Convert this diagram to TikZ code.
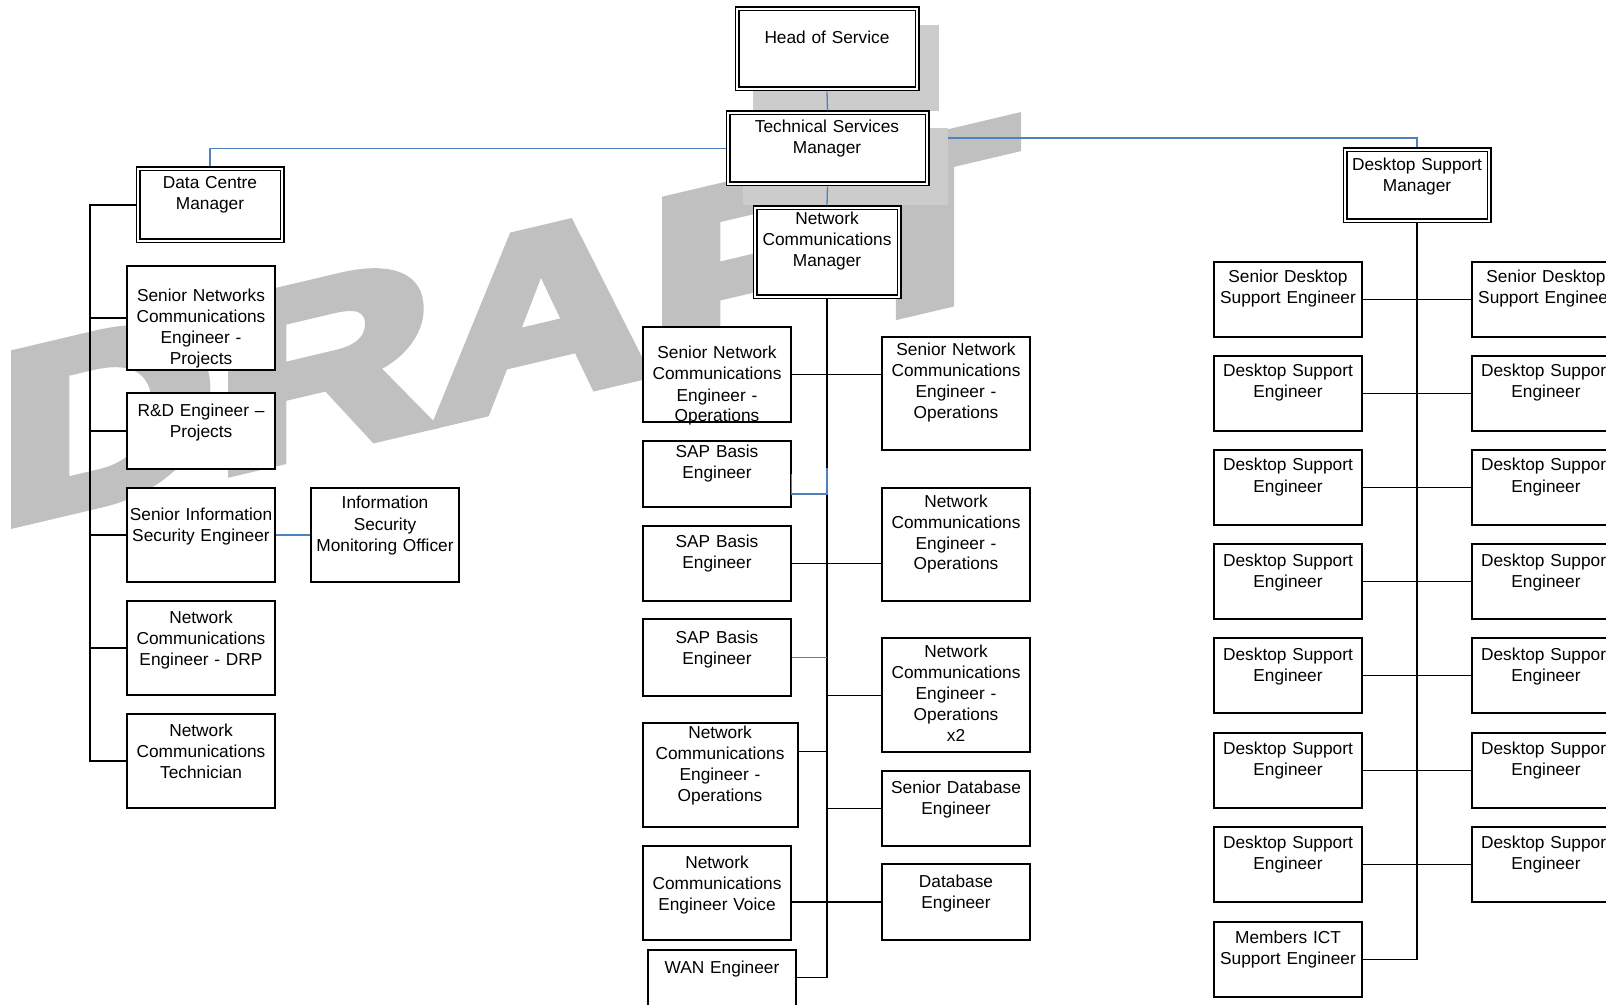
\documentclass[tikz,border=0pt]{standalone}
\usepackage{fontspec}
\setmainfont{Liberation Sans}
\newfontfamily\wmfont[BoldFeatures={FakeBold=5}]{Liberation Sans}
\usetikzlibrary{fit}

\definecolor{wmgray}{RGB}{192,192,192}
\definecolor{shadegray}{RGB}{204,204,204}
\definecolor{lineblue}{RGB}{79,129,189}

\pgfdeclarelayer{wmark}
\pgfdeclarelayer{under}
\pgfdeclarelayer{shade}
\pgfsetlayers{wmark,under,shade,main}

\newcommand\boxfont{\fontsize{8.65}{10.5}\selectfont}

\begin{document}
\begin{tikzpicture}[x=0.5pt,y=-0.5pt,
  box/.style={draw=black, fill=white, line width=0.65pt, inner sep=0pt},
  dbox/.style={draw=black, fill=white, line width=0.6pt, double=white,
    double distance=1.3pt, inner sep=0pt, outer sep=1.25pt},
  txt/.style={font=\boxfont, align=center, text width=80pt, inner sep=0pt, anchor=base},
  link/.style={draw=black, line width=0.65pt},
  blink/.style={draw=lineblue, line width=0.65pt},
  wmtext/.style={anchor=base west, inner sep=0pt, text=wmgray,
    font=\wmfont\bfseries\fontsize{121}{121}\selectfont, yslant=0.236, xscale=1.242},
  shadow/.style={fill=shadegray}
]
\useasboundingbox (0,0) rectangle (1606,1005);
\clip (0,0) rectangle (1606,1005);

% watermark
\begin{pgfonlayer}{wmark}
  \node[wmtext] (draft) at (-2,526) {DRAFT};
\end{pgfonlayer}

% management boxes
\node[dbox, fit={(737,9)(917,89)}] (hos) {};
\node[txt] (hos-t) at (827,44) {Head of Service};
\node[dbox, fit={(728,113)(927,184)}] (tsm) {};
\node[txt] (tsm-t) at (827,133) {Technical Services\\Manager};
\node[dbox, fit={(755,208)(899,297)}] (ncm) {};
\node[txt] (ncm-t) at (827,225) {Network\\Communications\\Manager};
\node[dbox, fit={(138,169)(282,241)}] (dcm) {};
\node[txt] (dcm-t) at (210,189) {Data Centre\\Manager};
\node[dbox, fit={(1345,150)(1489,221)}] (dsm) {};
\node[txt] (dsm-t) at (1417,171) {Desktop Support\\Manager};

% drop shadows of the two top boxes
\begin{pgfonlayer}{shade}
  \fill[shadow] ([shift={(18.5,18.5)}]hos.north west) rectangle ([shift={(19.5,19.5)}]hos.south east);
  \fill[shadow] ([shift={(17.5,17.5)}]tsm.north west) rectangle ([shift={(18.5,18.5)}]tsm.south east);
\end{pgfonlayer}

% data centre team
\node[box, fit={(127,266)(275,370)}] (snep) {};
\node[txt] (snep-t) at (201,302) {Senior Networks\\Communications\\Engineer -\\Projects};
\node[box, fit={(127,393)(275,469)}] (rnd) {};
\node[txt] (rnd-t) at (201,416) {R\&D Engineer –\\Projects};
\node[box, fit={(127,488)(275,582)}] (sise) {};
\node[txt] (sise-t) at (201,520) {Senior Information\\Security Engineer};
\node[box, fit={(311,488)(459,582)}] (ismo) {};
\node[txt] (ismo-t) at (385,509) {Information\\Security\\Monitoring Officer};
\node[box, fit={(127,601)(275,695)}] (drp) {};
\node[txt] (drp-t) at (201,623) {Network\\Communications\\Engineer - DRP};
\node[box, fit={(127,714)(275,808)}] (tech) {};
\node[txt] (tech-t) at (201,736) {Network\\Communications\\Technician};

% network communications team
\node[box, fit={(643,327)(791,422)}] (snol) {};
\node[txt] (snol-t) at (717,359) {Senior Network\\Communications\\Engineer -\\Operations};
\node[box, fit={(643,441)(791,507)}] (sap1) {};
\node[txt] (sap1-t) at (717,458) {SAP Basis\\Engineer};
\node[box, fit={(643,526)(791,601)}] (sap2) {};
\node[txt] (sap2-t) at (717,547) {SAP Basis\\Engineer};
\node[box, fit={(643,619)(791,696)}] (sap3) {};
\node[txt] (sap3-t) at (717,643) {SAP Basis\\Engineer};
\node[box, fit={(643,723)(798,827)}] (ncol) {};
\node[txt] (ncol-t) at (720,738) {Network\\Communications\\Engineer -\\Operations};
\node[box, fit={(643,846)(791,940)}] (voice) {};
\node[txt] (voice-t) at (717,868) {Network\\Communications\\Engineer Voice};
\node[box, fit={(648,950)(796,1030)}] (wan) {};
\node[txt] (wan-t) at (722,973) {WAN Engineer};
\node[box, fit={(882,337)(1030,450)}] (snor) {};
\node[txt] (snor-t) at (956,356) {Senior Network\\Communications\\Engineer -\\Operations};
\node[box, fit={(882,488)(1030,601)}] (ncor1) {};
\node[txt] (ncor1-t) at (956,507) {Network\\Communications\\Engineer -\\Operations};
\node[box, fit={(882,638)(1030,752)}] (ncor2) {};
\node[txt] (ncor2-t) at (956,657) {Network\\Communications\\Engineer -\\Operations\\x2};
\node[box, fit={(882,771)(1030,846)}] (sdb) {};
\node[txt] (sdb-t) at (956,793) {Senior Database\\Engineer};
\node[box, fit={(882,864)(1030,940)}] (db) {};
\node[txt] (db-t) at (956,887) {Database\\Engineer};

% desktop support team
\foreach \i/\yt in {1/262,2/356,3/450,4/544,5/638,6/733,7/827,8/922} {
  \node[box, fit={(1214,\yt)(1362,\yt+75)}] (dl\i) {};
}
\foreach \i/\yt in {1/262,2/356,3/450,4/544,5/638,6/733,7/827} {
  \node[box, fit={(1472,\yt)(1620,\yt+75)}] (dr\i) {};
}
\node[txt] (dl1-t) at (1288,283) {Senior Desktop\\Support Engineer};
\node[txt] (dr1-t) at (1546,283) {Senior Desktop\\Support Engineer};
\foreach \i/\yb in {2/377,3/471,4/566,5/660,6/754,7/848} {
  \node[txt] (dl\i-t) at (1288,\yb) {Desktop Support\\Engineer};
  \node[txt] (dr\i-t) at (1546,\yb) {Desktop Support\\Engineer};
}
\node[txt] (dl8-t) at (1288,943) {Members ICT\\Support Engineer};

% reporting lines
\coordinate (lbus) at (90,0);
\coordinate (cbus) at (827,0);

\begin{pgfonlayer}{under}
  \draw[blink] ([yshift=5.25pt]tsm.east) -| (dsm.north);
\end{pgfonlayer}

\draw[link] (dcm.west) -- (dcm.west -| lbus) |- (tech.west);
\foreach \n in {snep,rnd,sise,drp} \draw[link] (\n.west) -- (\n.west -| lbus);

\coordinate (wanout) at ([yshift=-14pt]wan.north east);
\coordinate (ncolout) at ([yshift=-14.5pt]ncol.north east);
\coordinate (ncor2in) at ([yshift=-29pt]ncor2.north west);
\draw[link] (ncm.south) |- (wanout);
\draw[link] (snol.east) -- (snor.west |- snol.east);
\draw[link] (sap2.east) -- (ncor1.west |- sap2.east);
\draw[link] (ncor2in) -- (ncor2in -| cbus);
\draw[link] (ncolout) -- (ncolout -| cbus);
\draw[link] (sdb.west) -- (sdb.west -| cbus);
\draw[link] (db.west) -- (db.west -| voice.east);

\draw[link] (dsm.south) |- (dl8.east);
\foreach \i in {1,...,7} \draw[link] (dl\i.east) -- (dr\i.west);

\draw[blink] (hos.south) -- (tsm.north);
\draw[blink] (tsm.south) -- (ncm.north);
\draw[blink] (tsm.west) -| (dcm.north);
\draw[blink] (sise.east) -- (ismo.west);
\draw[blink] (sap1.east) -- ++(0,20) -| ([yshift=3pt]sap1.east -| cbus);
\draw[blink] (sap3.east) -- (sap3.east -| cbus);
\end{tikzpicture}
\end{document}
